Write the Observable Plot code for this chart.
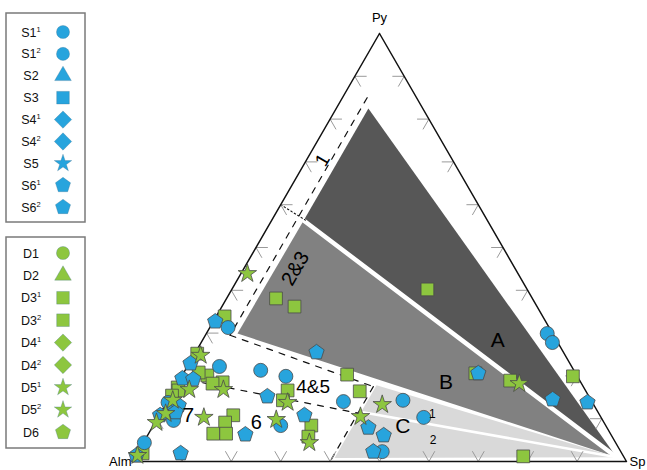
<!DOCTYPE html>
<html><head><meta charset="utf-8">
<script src="https://cdn.jsdelivr.net/npm/d3@7"></script>
<script src="https://cdn.jsdelivr.net/npm/@observablehq/plot@0.6"></script>
<style>
body{margin:0;background:#fff;}
#chart{width:647px;height:470px;}
</style></head>
<body><div id="chart"></div>
<script>
// Ternary data as [Py %, Sp %] (Alm = 100 - Py - Sp)
const blueCircles = [[29.9,69.0],[27.8,71.1],[14.3,47.6],[14.0,35.7],[10.3,53.8],[2.3,49.4],[21.3,15.3],[19.9,21.1],[22.2,6.5],[8.4,25.8],[31.3,3.7],[4.4,0.2],[9.6,3.5],[13.8,0.3]];
const bluePentagons = [[32.7,0.4],[25.5,24.5],[20.6,59.7],[14.5,77.8],[13.8,85.2],[7.9,43.8],[6.1,47.8],[2.3,47.6],[10.8,29.4],[15.2,19.7],[6.3,19.7],[1.9,8.8],[22.9,0.3],[19.4,0.4],[19.2,2.7],[13.1,2.8],[11.5,3.0],[10.8,0.2],[1.4,0.1]];
const greenSquares = [[33.9,1.7],[38.1,10.0],[36.2,14.7],[40.2,39.6],[20.3,33.3],[16.4,37.8],[20.6,59.1],[18.9,67.0],[19.9,79.2],[1.2,78.5],[8.4,32.0],[5.8,32.7],[16.6,23.1],[14.3,23.3],[10.8,15.0],[9.1,14.2],[6.5,13.1],[6.5,15.7],[18.5,9.0],[20.1,5.1],[20.8,3.0],[18.2,7.1],[25.2,0.5],[17.3,0.5],[16.6,1.0],[15.4,0.3],[1.9,1.1]];
const greenStars = [[43.9,1.3],[18.2,69.2],[13.3,43.9],[10.5,40.9],[13.8,24.5],[9.8,24.2],[4.4,33.6],[10.3,9.3],[16.8,10.0],[24.8,1.4],[16.8,3.1],[14.3,1.0],[11.2,1.1],[9.1,0.3],[1.4,0.3]];

// Fields
const fieldA = [[82.5,6.5],[56.3,6.5],[1.0,97.5]];
const fieldB = [[56.0,6.5],[29.9,6.3],[1.0,97.5]];
const fieldC = [[17.8,40.5],[0.8,40.5],[1.0,97.5]];
const whiteAB = [[56.3,6.5],[1.0,97.5]];
const whiteC = [[11.5,40.8],[1.0,97.5]];
const dashL1 = [[85,5],[29.5,5]];
const dashL3 = [[29.5,5],[17.5,40]];
const dashL5 = [[17.5,40],[0,40]];
const dashL4 = [[18.4,5],[11.3,40]];
const dotLine = [[60,0],[56.4,6.8]];

const fieldText = ["1","2&3","A","B","C","1","2","4&5","6","7"];
const fieldPy   = [70.4,45.1,28.3,18.5,8.2,11.0,4.9,17.5,9.1,10.8];
const fieldSp   = [3.3,10.4,59.8,54.2,50.6,55.2,58.4,27.8,20.5,5.9];
const fieldSize = [19,20,21,21,21,12,12,19,20,21];
const fieldRot  = [-60,-60,0,0,0,0,0,0,0,0];

const vertexNames = ["Py","Alm","Sp"];
const vertexPy = [100,0,0];
const vertexSp = [0,0,100];

const tickValues = [10,20,30,40,50,60,70,80,90];

const seriesS = ["S1¹","S1²","S2","S3","S4¹","S4²","S5","S6¹","S6²"];
const shapesS = ["circle","circle","triangle","square","diamond","diamond","star","pentagon","pentagon"];
const seriesD = ["D1","D2","D3¹","D3²","D4¹","D4²","D5¹","D5²","D6"];
const shapesD = ["circle","triangle","square","square","diamond","diamond","star","star","pentagon"];

const blue = "#27a4dd", green = "#8dc63f", mstroke = "#4a4a4a";
const S3 = Math.sqrt(3)/2;
const X = d => (d[1] + d[0]/2)/100;
const Y = d => d[0]/100*S3;

const pentagon = {draw(ctx, size){
  const R = Math.sqrt(size/2.3776);
  for (let k=0;k<5;k++){const a=-Math.PI/2+k*2*Math.PI/5; const px=R*Math.cos(a), py=R*Math.sin(a); if(k) ctx.lineTo(px,py); else ctx.moveTo(px,py);}
  ctx.closePath();
}};
const diamond = {draw(ctx, size){
  const h = Math.sqrt(size/2);
  ctx.moveTo(0,-h); ctx.lineTo(h,0); ctx.lineTo(0,h); ctx.lineTo(-h,0); ctx.closePath();
}};

const L = 2.4;
const tickSegs = [];
for (const t of tickValues) {
  tickSegs.push([[0,t],[L,t]],[[0,t],[L,t-L]]);
  tickSegs.push([[t,0],[t,L]],[[t,0],[t-L,L]]);
  tickSegs.push([[t,100-t],[t,100-t-L]],[[t,100-t],[t-L,100-t]]);
}
const edge = [[100,0],[0,0],[0,100],[100,0]];
const labels = fieldText.map((t,i)=>({t, p:[fieldPy[i],fieldSp[i]], s:fieldSize[i], r:fieldRot[i]}));
const verts = vertexNames.map((n,i)=>({n, p:[vertexPy[i],vertexSp[i]]}));

const font = "Liberation Sans, Arial, sans-serif";
const plot = Plot.plot({
  width: 647, height: 470,
  x: {domain:[0,1], range:[132,626], axis:null},
  y: {domain:[0,S3], range:[461,33], axis:null},
  style: {fontFamily: font, background:"#fff"},
  marks: [
    Plot.line(fieldA.concat([fieldA[0]]), {x:X, y:Y, fill:"#575757", stroke:"none"}),
    Plot.line(fieldB.concat([fieldB[0]]), {x:X, y:Y, fill:"#818181", stroke:"none"}),
    Plot.line(fieldC.concat([fieldC[0]]), {x:X, y:Y, fill:"#d9d9d9", stroke:"none"}),
    Plot.line(whiteAB, {x:X, y:Y, stroke:"#fff", strokeWidth:4.5}),
    Plot.line(whiteC, {x:X, y:Y, stroke:"#fff", strokeWidth:2.5}),
    ...[dashL1, dashL3, dashL5, dashL4].map(l => Plot.line(l, {x:X, y:Y, stroke:"#111", strokeWidth:1.2, strokeDasharray:"6,7"})),
    Plot.line(dotLine, {x:X, y:Y, stroke:"#111", strokeWidth:1.1, strokeDasharray:"1.5,2.5"}),
    Plot.link(tickSegs, {x1:d=>X(d[0]), y1:d=>Y(d[0]), x2:d=>X(d[1]), y2:d=>Y(d[1]), stroke:"#9a9a9a", strokeWidth:1}),
    Plot.line(edge, {x:X, y:Y, stroke:"#111", strokeWidth:1.5}),
    Plot.dot(greenSquares, {x:X, y:Y, symbol:"square", r:7.2, fill:green, stroke:mstroke, strokeWidth:0.8}),
    Plot.dot(blueCircles, {x:X, y:Y, symbol:"circle", r:7, fill:blue, stroke:mstroke, strokeWidth:0.8}),
    Plot.dot(bluePentagons, {x:X, y:Y, symbol:pentagon, r:7, fill:blue, stroke:mstroke, strokeWidth:0.8}),
    Plot.dot(greenStars, {x:X, y:Y, symbol:"star", r:5.8, fill:green, stroke:mstroke, strokeWidth:0.8}),
    Plot.text(labels, {x:d=>X(d.p), y:d=>Y(d.p), text:"t", fontSize:d=>d.s, rotate:"r", fill:"#000"}),
    Plot.text(verts.slice(0,1), {x:d=>X(d.p), y:d=>Y(d.p), text:"n", dy:-16, fontSize:13, fill:"#000"}),
    Plot.text(verts.slice(1,2), {x:d=>X(d.p), y:d=>Y(d.p), text:"n", dx:-1, dy:0, textAnchor:"end", fontSize:13, fill:"#000"}),
    Plot.text(verts.slice(2,3), {x:d=>X(d.p), y:d=>Y(d.p), text:"n", dx:3, dy:0, textAnchor:"start", fontSize:13, fill:"#000"})
  ]
});
document.getElementById("chart").appendChild(plot);

// Legend boxes
const svg = d3.select(plot);
const symMap = {circle:d3.symbolCircle, triangle:d3.symbolTriangle, square:d3.symbolSquare, diamond:diamond, star:d3.symbolStar, pentagon:pentagon};
const symSize = {circle:135, triangle:120, square:160, diamond:150, star:95, pentagon:150};
function legend(names, shapes, color, top, bottom, first, step){
  const g = svg.append("g");
  g.append("rect").attr("x",6).attr("y",top).attr("width",79).attr("height",bottom-top)
    .attr("fill","#fff").attr("stroke","#7a7a7a").attr("stroke-width",1.5);
  names.forEach((n,i)=>{
    const y = first + i*step;
    const base = n.replace(/[¹²]/g,""), sup = n.match(/[¹²]/) ? (n.includes("¹")?"1":"2") : "";
    const t = g.append("text").attr("x",31).attr("y",y+4.5).attr("text-anchor","middle")
      .attr("font-family",font).attr("font-size",12.5).attr("fill","#111").text(base);
    if (sup) t.append("tspan").attr("font-size",7.5).attr("dy",-5).text(sup);
    const shape = shapes[i];
    g.append("path").attr("transform",`translate(63,${y})`)
      .attr("d", d3.symbol(symMap[shape], symSize[shape])())
      .attr("fill",color).attr("stroke","#3d6f8c").attr("stroke-opacity",0.5).attr("stroke-width",0.6);
  });
}
legend(seriesS, shapesS, blue, 13, 222, 32, 21.9);
legend(seriesD, shapesD, green, 237, 448, 253, 22.4);
</script>
</body></html>
